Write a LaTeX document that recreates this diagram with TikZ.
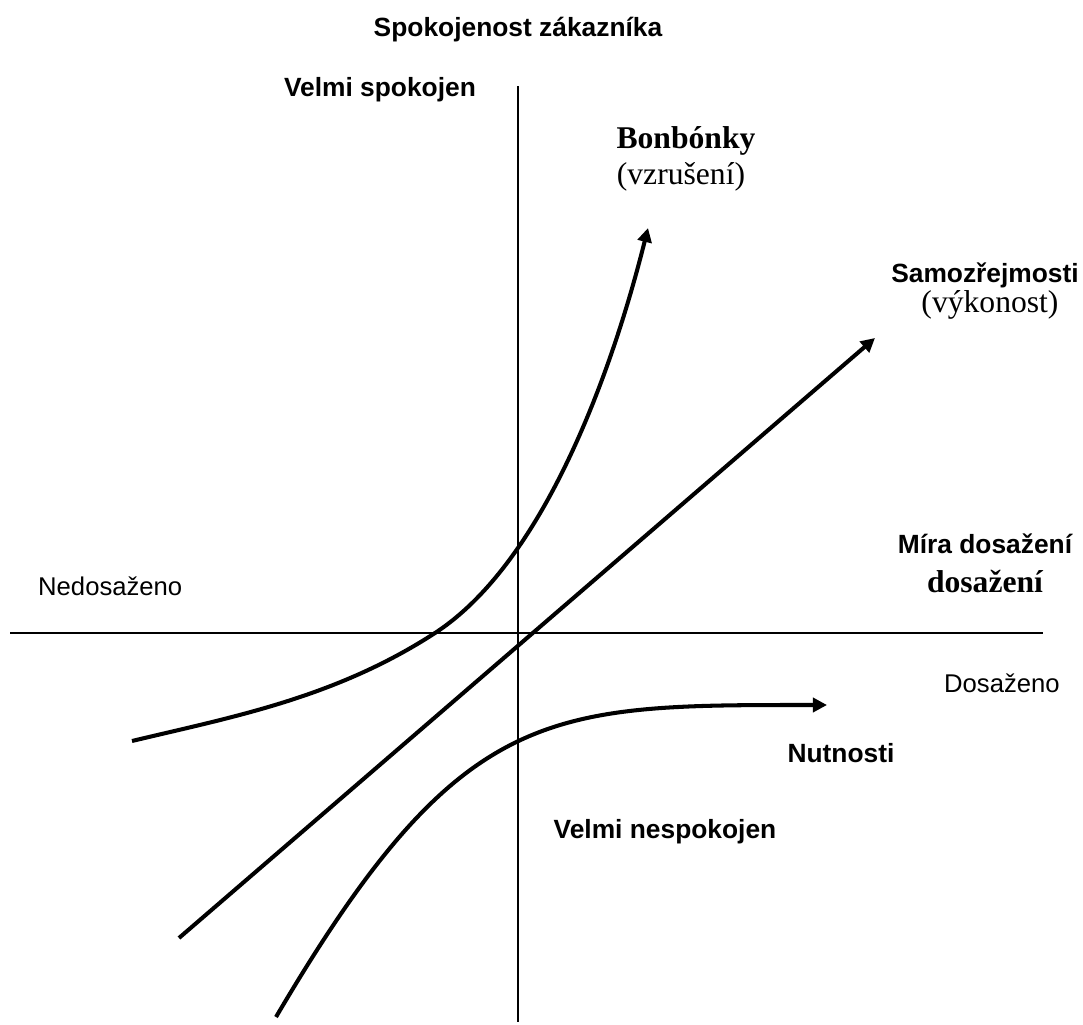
\documentclass[tikz,border=0pt]{standalone}
\usepackage{fontspec}
\setmainfont{Liberation Serif}
\newfontfamily\arialfont{Liberation Sans}
\usetikzlibrary{arrows.meta}
\begin{document}
\begin{tikzpicture}[x=0.02cm, y=-0.02cm,
    axis/.style={line width=1.1pt},
    curve/.style={line width=2.3pt, -{Triangle[length=8pt,width=8pt]}},
    sanslabel/.style={anchor=base, font=\arialfont\bfseries\fontsize{15}{18}\selectfont},
    plainlabel/.style={anchor=base west, font=\arialfont\fontsize{14.6}{18}\selectfont},
    seriflabel/.style={anchor=base, font=\fontsize{18}{21}\selectfont}]
    \useasboundingbox (0,0) rectangle (1083,1025);
    \coordinate (ytop) at (518,86);
    \coordinate (ybot) at (518,1022);
    \coordinate (xleft) at (10,633);
    \coordinate (xright) at (1043,633);
    \draw[axis] (ytop) -- (ybot);
    \draw[axis] (xleft) -- (xright);
    \node[sanslabel] (title) at (518,36) {Spokojenost zákazníka};
    \node[sanslabel] (vgood) at (380,96) {Velmi spokojen};
    \node[sanslabel] (vbad) at (665,838) {Velmi nespokojen};
    \node[plainlabel] (undone) at (32,595) {Nedosaženo};
    \node[plainlabel] (done) at (938,692) {Dosaženo};
    \node[sanslabel] (measure) at (985,553) {Míra dosažení};
    \node[seriflabel] (measuretwo) at (985,592) {\bfseries dosažení};
    \node[seriflabel] (bonbon) at (686,148) {\bfseries Bonbónky};
    \node[seriflabel] (bonbonsub) at (681,184) {(vzrušení)};
    \node[sanslabel] (obvious) at (985,282) {Samozřejmosti};
    \node[seriflabel] (obvioussub) at (990,312) {(výkonost)};
    \node[sanslabel] (needs) at (841,762) {Nutnosti};
    \draw[curve] (132,741) .. controls (232,717) and (335,698) .. (435,633)
        .. controls (545,561.5) and (613,368) .. (648,228);
    \draw[curve] (179,938) -- (875,338);
    \draw[curve] (276,1017) .. controls (461,702.5) and (547,705) .. (827,705);
\end{tikzpicture}
\end{document}
